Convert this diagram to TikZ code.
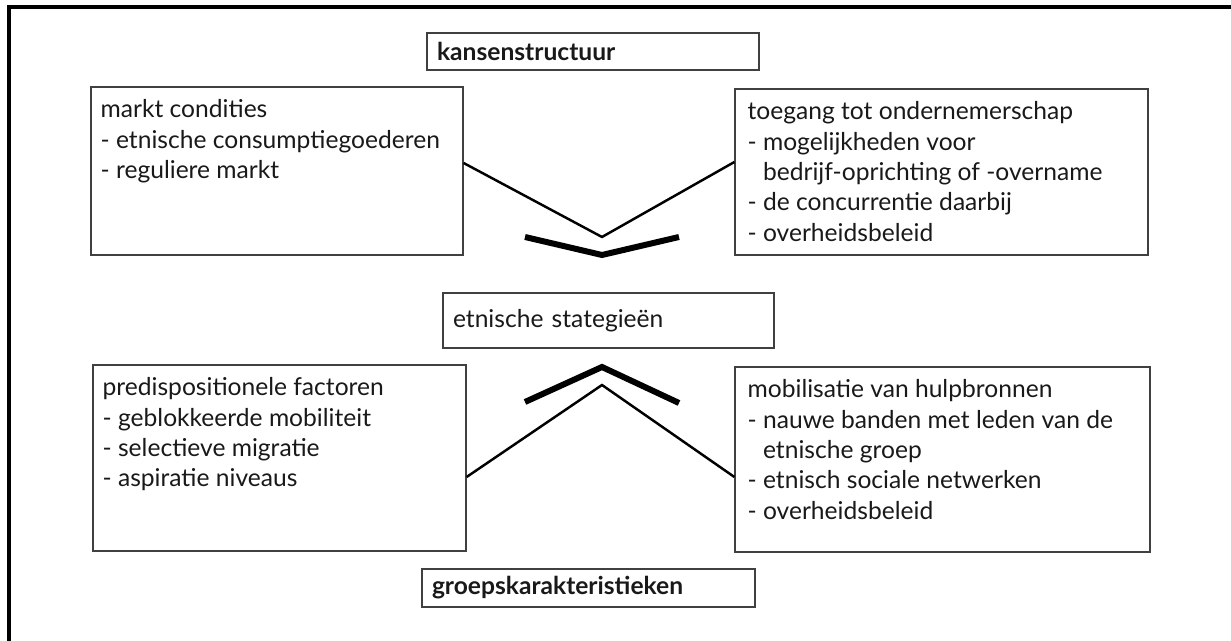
\documentclass[tikz,border=0pt]{standalone}
\usepackage{fontspec}
\setmainfont{Lato}
\usetikzlibrary{positioning}

\begin{document}
\begin{tikzpicture}[line width=1.4pt,
  box/.style={draw=black!75, line width=0.7pt, inner sep=0pt},
  hdr/.style={box, inner xsep=0.2cm, align=left, text=black!90},
  txt/.style={inner sep=0pt, align=left, text=black!90},
  every node/.append style={font=\fontsize{14}{17.3}\selectfont}]
  \useasboundingbox (0,0) rectangle (24.62,12.82);
  \draw[line width=0.08cm] (0.18,0) -- (0.18,12.68) -- (24.62,12.68);   % frame
  % headers
  \node[hdr, text width=6.24cm, minimum height=0.74cm, font=\fontsize{14}{17.3}\selectfont\bfseries] (kansen) at (11.86,11.79) {kansenstructuur};
  \node[hdr, text width=6.22cm, minimum height=1.10cm] (strategie) at (12.17,6.41) {etnische stategieën};
  \node[hdr, text width=6.26cm, minimum height=0.76cm, font=\fontsize{14}{17.3}\selectfont\bfseries] (groeps) at (11.77,1.06) {groepskarakteristieken};
  % the four boxes
  \node[box, minimum width=7.44cm, minimum height=3.36cm] (markt) at (5.54,9.40) {};
  \node[box, minimum width=8.26cm, minimum height=3.32cm] (toegang) at (18.83,9.38) {};
  \node[box, minimum width=7.46cm, minimum height=3.72cm] (predisp) at (5.59,3.66) {};
  \node[box, minimum width=8.30cm, minimum height=3.70cm] (mobil) at (18.85,3.63) {};
  \node[txt, below right=0.24cm and 0.18cm of markt.north west] (markttxt)
    {markt condities\\- etnische consumptiegoederen\\- reguliere markt};
  \node[txt, below right=0.24cm and 0.24cm of toegang.north west] (toegangtxt)
    {toegang tot ondernemerschap\\- mogelijkheden voor\\\hphantom{- }bedrijf-oprichting of -overname\\- de concurrentie daarbij\\- overheidsbeleid};
  \node[txt, below right=0.24cm and 0.18cm of predisp.north west] (predisptxt)
    {predispositionele factoren\\- geblokkeerde mobiliteit\\- selectieve migratie\\- aspiratie niveaus};
  \node[txt, below right=0.24cm and 0.24cm of mobil.north west] (mobiltxt)
    {mobilisatie van hulpbronnen\\- nauwe banden met leden van de\\\hphantom{- }etnische groep\\- etnisch sociale netwerken\\- overheidsbeleid};
  % converging lines
  \coordinate (boven) at (12.04,8.08);
  \coordinate (onder) at (12.04,5.12);
  \draw ([yshift=0.16cm]markt.east) -- (boven) -- ([yshift=0.2cm]toegang.west);
  \draw ([yshift=-0.38cm]predisp.east) -- (onder) -- ([yshift=-0.35cm]mobil.west);
  \draw[line width=0.12cm] (10.50,8.08) -- (12.04,7.72) -- (13.58,8.08);  % chevron down
  \draw[line width=0.12cm] (10.50,4.78) -- (12.04,5.48) -- (13.58,4.76);  % chevron up
\end{tikzpicture}
\end{document}
